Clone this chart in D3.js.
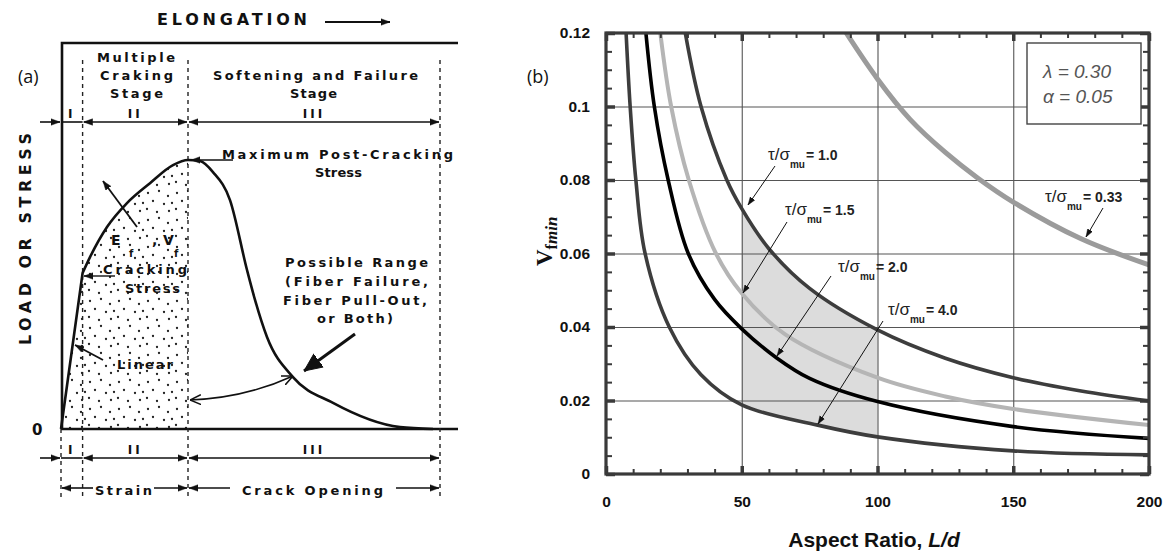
<!DOCTYPE html>
<html>
<head>
<meta charset="utf-8">
<script src="https://cdn.jsdelivr.net/npm/d3@7"></script>
<style>
body{margin:0;background:#fff}
svg{display:block}
</style>
</head>
<body>
<script>
// ---------- panel (a) data : load vs elongation (arbitrary units) ----------
var elongation = [0, 0.57, 0.765, 1.214, 1.741, 2.348, 2.955, 3.351, 3.668, 4.01, 4.459, 4.908, 5.119, 5.435, 6.121, 7.177, 8.945, 9.815];
var loadValues = [0, 0.58, 0.639, 0.751, 0.840, 0.914, 0.981, 1.0, 0.996, 0.955, 0.851, 0.591, 0.480, 0.342, 0.193, 0.097, 0.007, 0];
var peakIndex = 7;
var stageEdges = [0, 0.57, 3.351, 10];
var stageNames = ["I", "II", "III"];

// ---------- panel (b) data : Vf,min vs aspect ratio ----------
var ldTau10 = [29.2, 35, 44.5, 50, 60, 75, 100, 125, 150, 175, 200];
var vfTau10 = [0.12, 0.1, 0.08, 0.0722, 0.0613, 0.0505, 0.0392, 0.0315, 0.0262, 0.0226, 0.0199];
var ldTau15 = [20, 24, 30.5, 40.5, 50, 66, 100, 125, 150, 200];
var vfTau15 = [0.12, 0.1, 0.08, 0.06, 0.0492, 0.038, 0.0262, 0.0211, 0.0177, 0.0133];
var ldTau20 = [14.7, 17.8, 22.9, 30.3, 40, 50, 63, 75, 100, 150, 200];
var vfTau20 = [0.12, 0.1, 0.08, 0.06, 0.0475, 0.0395, 0.0315, 0.026, 0.0197, 0.0129, 0.0097];
var ldTau40 = [7.4, 8.9, 11, 14.4, 23.3, 35, 50, 78, 100, 150, 200];
var vfTau40 = [0.12, 0.1, 0.08, 0.06, 0.04, 0.027, 0.0188, 0.0133, 0.0101, 0.0063, 0.0052];
var ldTau033 = [88.5, 100, 112, 125, 137, 150, 175, 200];
var vfTau033 = [0.12, 0.1075, 0.0965, 0.0875, 0.0805, 0.074, 0.064, 0.0569];
var shadeRange = [50, 100];
var xTicksB = [0, 50, 100, 150, 200];
var yTicksB = [0, 0.02, 0.04, 0.06, 0.08, 0.1, 0.12];
var yTickLabelsB = ["0", "0.02", "0.04", "0.06", "0.08", "0.1", "0.12"];

function zip(xs, ys){ return xs.map(function(x, i){ return [x, ys[i]]; }); }

var svg = d3.select("body").append("svg")
    .attr("width", 1171)
    .attr("height", 554)
    .attr("font-family", "'Liberation Sans',Arial,sans-serif");
var defs = svg.append("defs");

// arrow heads
function addMarker(id, path, w, filled){
  defs.append("marker")
    .attr("id", id)
    .attr("viewBox", "0 -5 10 10")
    .attr("refX", 10).attr("refY", 0)
    .attr("markerUnits", "userSpaceOnUse")
    .attr("markerWidth", w).attr("markerHeight", w)
    .attr("orient", "auto-start-reverse")
    .append("path")
    .attr("d", path)
    .attr("fill", filled ? "#111" : "none")
    .attr("stroke", "#111")
    .attr("stroke-width", filled ? 0.5 : 1.4);
}
addMarker("headA", "M0,-3.6L10,0L0,3.6Z", 9, true);
addMarker("bigA", "M0,-4.5L10,0L0,4.5Z", 18, true);
addMarker("openA", "M0,-4.5L10,0L0,4.5", 11, false);
addMarker("headB", "M0,-3.5L10,0L0,3.5Z", 8, true);

// stipple texture
var dotPos = [[3,4],[14,2],[23,7],[8,12],[19,15],[2,20],[12,23],[24,22],[27,14]];
var pat = defs.append("pattern").attr("id", "dots")
    .attr("patternUnits", "userSpaceOnUse").attr("width", 29).attr("height", 27);
pat.selectAll("circle").data(dotPos).enter().append("circle")
    .attr("cx", function(d){ return d[0]; })
    .attr("cy", function(d){ return d[1]; })
    .attr("r", 1.15).attr("fill", "#222");

// ================= PANEL (a) =================
var xA = d3.scaleLinear().domain([0, 10]).range([61, 440]);
var yA = d3.scaleLinear().domain([0, 1]).range([429, 160]);
var gA = svg.append("g").attr("font-family", "'DejaVu Sans',sans-serif");
var bold = "bold";

function textA(str, x, y, size, len, anchor){
  var t = gA.append("text").attr("x", x).attr("y", y)
    .attr("font-size", size).attr("font-weight", bold)
    .attr("fill", "#111").text(str);
  if (anchor) t.attr("text-anchor", anchor);
  if (len) t.attr("textLength", len).attr("lengthAdjust", "spacing");
  return t;
}

// stippled area under the rising part
var pts = zip(elongation, loadValues);
var smooth = d3.line().x(function(d){ return xA(d[0]); }).y(function(d){ return yA(d[1]); }).curve(d3.curveMonotoneX);
var fullPath = "M" + xA(pts[0][0]) + "," + yA(pts[0][1]) + smooth(pts.slice(1)).replace(/^M/, "L");
var risePath = "M" + xA(pts[0][0]) + "," + yA(pts[0][1]) + smooth(pts.slice(1, peakIndex + 1)).replace(/^M/, "L")
    + "L" + xA(elongation[peakIndex]) + "," + yA(0) + "Z";
gA.append("path").attr("d", risePath).attr("fill", "url(#dots)");

// frame
gA.append("path")
  .attr("d", "M61,429L458,429M62,429L62,43L458,43")
  .attr("fill", "none").attr("stroke", "#111").attr("stroke-width", 2.6);

// dashed stage boundaries
gA.selectAll(".stage").data(stageEdges.slice(1)).enter().append("line")
  .attr("x1", function(d){ return xA(d); }).attr("x2", function(d){ return xA(d); })
  .attr("y1", 60).attr("y2", 497)
  .attr("stroke", "#222").attr("stroke-width", 1.4).attr("stroke-dasharray", "4,4");
gA.append("line").attr("x1", xA(0)).attr("x2", xA(0)).attr("y1", 429).attr("y2", 497)
  .attr("stroke", "#222").attr("stroke-width", 1.4).attr("stroke-dasharray", "4,4");

// load curve
gA.append("path").attr("d", fullPath).attr("fill", "none")
  .attr("stroke", "#111").attr("stroke-width", 2.6);

// stage arrow rows (top and bottom)
[122, 458].forEach(function(yy){
  gA.append("line").attr("x1", 40).attr("x2", xA(0) - 1).attr("y1", yy).attr("y2", yy)
    .attr("stroke", "#111").attr("stroke-width", 1.6).attr("marker-end", "url(#headA)");
  gA.append("line").attr("x1", xA(0)).attr("x2", xA(stageEdges[1])).attr("y1", yy).attr("y2", yy)
    .attr("stroke", "#111").attr("stroke-width", 1.6);
  for (var i = 1; i < 3; i++) {
    gA.append("line").attr("x1", xA(stageEdges[i]) + 1).attr("x2", xA(stageEdges[i + 1]) - 1)
      .attr("y1", yy).attr("y2", yy)
      .attr("stroke", "#111").attr("stroke-width", 1.6)
      .attr("marker-start", "url(#headA)").attr("marker-end", "url(#headA)");
  }
  stageNames.forEach(function(s, i){
    textA(s, (xA(stageEdges[i]) + xA(stageEdges[i + 1])) / 2, yy - 4, 12, null, "middle")
      .attr("letter-spacing", 3);
  });
});

// strain / crack opening row
var yS = 488;
function seg(x1, x2, ms, me){
  var l = gA.append("line").attr("x1", x1).attr("x2", x2).attr("y1", yS).attr("y2", yS)
    .attr("stroke", "#111").attr("stroke-width", 1.6);
  if (ms) l.attr("marker-start", "url(#headA)");
  if (me) l.attr("marker-end", "url(#headA)");
}
seg(xA(0) + 1, 93, true, false);
seg(154, xA(stageEdges[2]) - 1, false, true);
seg(xA(stageEdges[2]) + 1, 230, true, false);
seg(396, xA(10) - 1, false, true);
textA("Strain", 95, 495, 13, 57);
textA("Crack  Opening", 242, 495, 13, 141);

// headings
textA("ELONGATION", 157, 25, 16, 150);
gA.append("line").attr("x1", 325).attr("x2", 390).attr("y1", 22).attr("y2", 22)
  .attr("stroke", "#111").attr("stroke-width", 2).attr("marker-end", "url(#headA)");
textA("Multiple", 97, 62, 13, 78);
textA("Craking", 100, 80, 13, 73);
textA("Stage", 110, 98, 13, 53);
textA("Softening  and  Failure", 213, 80, 13, 205);
textA("Stage", 290, 98, 13, 47);
textA("Maximum   Post-Cracking", 222, 159, 13, 231);
textA("Stress", 315, 177, 13, 47);
gA.append("line").attr("x1", 233).attr("x2", 191).attr("y1", 160).attr("y2", 160)
  .attr("stroke", "#111").attr("stroke-width", 1.4).attr("marker-end", "url(#headA)");

// LOAD OR STRESS
gA.append("text").attr("transform", "translate(31,239) rotate(-90)")
  .attr("text-anchor", "middle").attr("font-size", 16).attr("font-weight", bold)
  .attr("textLength", 212).attr("lengthAdjust", "spacing")
  .attr("fill", "#111").text("LOAD  OR  STRESS");
textA("0", 32, 435, 15, null);
svg.append("text").attr("x", 18).attr("y", 83).attr("font-size", 18)
  .attr("font-family", "'Open Sans',sans-serif").attr("fill", "#111").text("(a)");

// Ef, Vf
textA("E", 111, 245, 14);
textA("f", 129, 257, 10);
textA(",", 152, 245, 14);
textA("V", 163, 245, 14);
textA("f", 174, 257, 10);
gA.append("line").attr("x1", 137).attr("y1", 227).attr("x2", 103).attr("y2", 181)
  .attr("stroke", "#111").attr("stroke-width", 1.8).attr("marker-end", "url(#headA)");

// Cracking stress
textA("Cracking", 103, 274, 13, 84);
textA("Stress", 125, 293, 13, 55);
gA.append("line").attr("x1", 115).attr("y1", 276).attr("x2", 84).attr("y2", 276)
  .attr("stroke", "#111").attr("stroke-width", 1.4).attr("marker-end", "url(#headA)");

// Linear
textA("Linear", 117, 369, 13, 56);
gA.append("line").attr("x1", 103).attr("y1", 360).attr("x2", 75).attr("y2", 345)
  .attr("stroke", "#111").attr("stroke-width", 1.8).attr("marker-end", "url(#headA)");

// Possible range
textA("Possible  Range", 285, 267, 13, 143);
textA("(Fiber  Failure,", 285, 286, 13, 143);
textA("Fiber  Pull-Out,", 283, 305, 13, 144);
textA("or  Both)", 317, 323, 13, 76);
gA.append("line").attr("x1", 355).attr("y1", 334).attr("x2", 304).attr("y2", 371)
  .attr("stroke", "#111").attr("stroke-width", 3).attr("marker-end", "url(#bigA)");
gA.append("path").attr("d", "M190,400Q245,398 293,376")
  .attr("fill", "none").attr("stroke", "#111").attr("stroke-width", 1.6)
  .attr("marker-start", "url(#openA)").attr("marker-end", "url(#openA)");

// ================= PANEL (b) =================
var leftB = 606, rightB = 1149, topB = 33, bottomB = 474;
var xB = d3.scaleLinear().domain([0, 200]).range([leftB, rightB]);
var yB = d3.scaleLinear().domain([0, 0.12]).range([bottomB, topB]);
var gB = svg.append("g");
defs.append("clipPath").attr("id", "plotB").append("rect")
  .attr("x", leftB).attr("y", topB).attr("width", rightB - leftB).attr("height", bottomB - topB);
defs.append("clipPath").attr("id", "shadeB").append("rect")
  .attr("x", xB(shadeRange[0])).attr("y", topB)
  .attr("width", xB(shadeRange[1]) - xB(shadeRange[0])).attr("height", bottomB - topB);

var lineB = d3.line().x(function(d){ return xB(d[0]); }).y(function(d){ return yB(d[1]); })
  .curve(d3.curveCatmullRom.alpha(0.5));

// shaded band between tau=1.0 and tau=4.0
var c10 = zip(ldTau10, vfTau10), c40 = zip(ldTau40, vfTau40);
gB.append("path")
  .attr("d", lineB(c10) + lineB(c40.slice().reverse()).replace(/^M/, "L") + "Z")
  .attr("fill", "#dcdcdc").attr("clip-path", "url(#shadeB)");

// grid
gB.append("g").attr("transform", "translate(0," + bottomB + ")")
  .call(d3.axisBottom(xB).tickValues([50, 100, 150]).tickSize(-(bottomB - topB)).tickFormat(""))
  .call(function(g){ g.select(".domain").remove(); g.selectAll("line").attr("stroke", "#555").attr("stroke-width", 1.1); });
gB.append("g").attr("transform", "translate(" + leftB + ",0)")
  .call(d3.axisLeft(yB).tickValues([0.02, 0.04, 0.06, 0.08, 0.1]).tickSize(-(rightB - leftB)).tickFormat(""))
  .call(function(g){ g.select(".domain").remove(); g.selectAll("line").attr("stroke", "#555").attr("stroke-width", 1.1); });

// curves
var curves = [
  {d: zip(ldTau033, vfTau033), color: "#9b9b9b", w: 5},
  {d: c10, color: "#3d3d3d", w: 3.6},
  {d: zip(ldTau15, vfTau15), color: "#b5b5b5", w: 4},
  {d: zip(ldTau20, vfTau20), color: "#000", w: 3.6},
  {d: c40, color: "#3d3d3d", w: 3.6}
];
gB.append("g").attr("clip-path", "url(#plotB)").selectAll("path").data(curves).enter().append("path")
  .attr("d", function(c){ return lineB(c.d); })
  .attr("fill", "none")
  .attr("stroke", function(c){ return c.color; })
  .attr("stroke-width", function(c){ return c.w; });

// ticks on all four sides
function styleTicks(g, w){ g.select(".domain").remove(); g.selectAll("line").attr("stroke", "#3a3a3a").attr("stroke-width", w); }
var xMinor = d3.range(0, 201, 10), yMinor = d3.range(0, 0.1201, 0.005);
gB.append("g").attr("transform", "translate(0," + bottomB + ")")
  .call(d3.axisBottom(xB).tickValues(xMinor).tickSize(-5).tickFormat("")).call(styleTicks, 2);
gB.append("g").attr("transform", "translate(0," + topB + ")")
  .call(d3.axisTop(xB).tickValues(xMinor).tickSize(-5).tickFormat("")).call(styleTicks, 2);
gB.append("g").attr("transform", "translate(" + leftB + ",0)")
  .call(d3.axisLeft(yB).tickValues(yMinor).tickSize(-6).tickFormat("")).call(styleTicks, 2);
gB.append("g").attr("transform", "translate(" + rightB + ",0)")
  .call(d3.axisRight(yB).tickValues(yMinor).tickSize(-6).tickFormat("")).call(styleTicks, 2);

var xAxisB = gB.append("g").attr("transform", "translate(0," + bottomB + ")")
  .call(d3.axisBottom(xB).tickValues(xTicksB).tickSize(-8).tickPadding(22).tickFormat(d3.format("d")));
xAxisB.call(styleTicks, 3.5);
gB.append("g").attr("transform", "translate(0," + topB + ")")
  .call(d3.axisTop(xB).tickValues(xTicksB).tickSize(-8).tickFormat("")).call(styleTicks, 3.5);
var yAxisB = gB.append("g").attr("transform", "translate(" + leftB + ",0)")
  .call(d3.axisLeft(yB).tickValues(yTicksB).tickSize(-9).tickPadding(16)
    .tickFormat(function(d, i){ return yTickLabelsB[i]; }));
yAxisB.call(styleTicks, 3.5);
gB.append("g").attr("transform", "translate(" + rightB + ",0)")
  .call(d3.axisRight(yB).tickValues(yTicksB).tickSize(-9).tickFormat("")).call(styleTicks, 3.5);
[xAxisB, yAxisB].forEach(function(a){
  a.selectAll("text").attr("font-size", 15.5).attr("font-weight", "bold")
    .attr("font-family", "'Liberation Sans',Arial,sans-serif").attr("fill", "#111");
});

// frame
gB.append("rect").attr("x", leftB).attr("y", topB).attr("width", rightB - leftB).attr("height", bottomB - topB)
  .attr("fill", "none").attr("stroke", "#3a3a3a").attr("stroke-width", 3.2);

// legend box
gB.append("rect").attr("x", 1027).attr("y", 43).attr("width", 114).attr("height", 81)
  .attr("fill", "#fff").attr("stroke", "#444").attr("stroke-width", 1.4);
gB.append("text").attr("x", 1043).attr("y", 78).attr("font-size", 19).attr("font-style", "italic")
  .attr("font-family", "'Liberation Sans Narrow','Liberation Sans',sans-serif").attr("fill", "#555").text("λ = 0.30");
gB.append("text").attr("x", 1043).attr("y", 103).attr("font-size", 19).attr("font-style", "italic")
  .attr("font-family", "'Liberation Sans Narrow','Liberation Sans',sans-serif").attr("fill", "#555").text("α = 0.05");

// curve labels
function tauLabel(x, y, val){
  var t = gB.append("text").attr("x", x).attr("y", y).attr("fill", "#222");
  t.append("tspan").attr("font-size", 17).text("τ/σ");
  t.append("tspan").attr("font-size", 10).attr("font-weight", "bold").attr("dy", 8).text("mu");
  t.append("tspan").attr("font-size", 14).attr("font-weight", "bold").attr("dy", -8).attr("dx", 1).text("= " + val);
}
function arrowB(x1, y1, x2, y2){
  gB.append("line").attr("x1", x1).attr("y1", y1).attr("x2", x2).attr("y2", y2)
    .attr("stroke", "#111").attr("stroke-width", 1).attr("marker-end", "url(#headB)");
}
tauLabel(768, 160, "1.0");
arrowB(775, 166, 748, 205);
tauLabel(785, 215, "1.5");
arrowB(787, 222, 743, 293);
tauLabel(838, 272, "2.0");
arrowB(831, 276, 777, 356);
tauLabel(888, 315, "4.0");
arrowB(883, 321, 818, 424);
tauLabel(1045, 202, "0.33");
arrowB(1103, 208, 1086, 237);

// axis titles
var xt = gB.append("text").attr("x", 874).attr("y", 547).attr("text-anchor", "middle")
  .attr("font-size", 21).attr("font-weight", "bold").attr("fill", "#111");
xt.append("tspan").text("Aspect Ratio, ");
xt.append("tspan").attr("font-style", "italic").text("L/d");

var yt = gB.append("text").attr("transform", "translate(552,266) rotate(-90)")
  .attr("font-family", "'Liberation Serif','DejaVu Serif',serif").attr("font-weight", "bold").attr("fill", "#111");
yt.append("tspan").attr("font-size", 23).text("V");
yt.append("tspan").attr("font-size", 16).attr("dy", 5).text("f");
yt.append("tspan").attr("font-size", 17).attr("font-style", "italic").text("min");

svg.append("text").attr("x", 527).attr("y", 83).attr("font-size", 18)
  .attr("font-family", "'Open Sans',sans-serif").attr("fill", "#111").text("(b)");
</script>
</body>
</html>
